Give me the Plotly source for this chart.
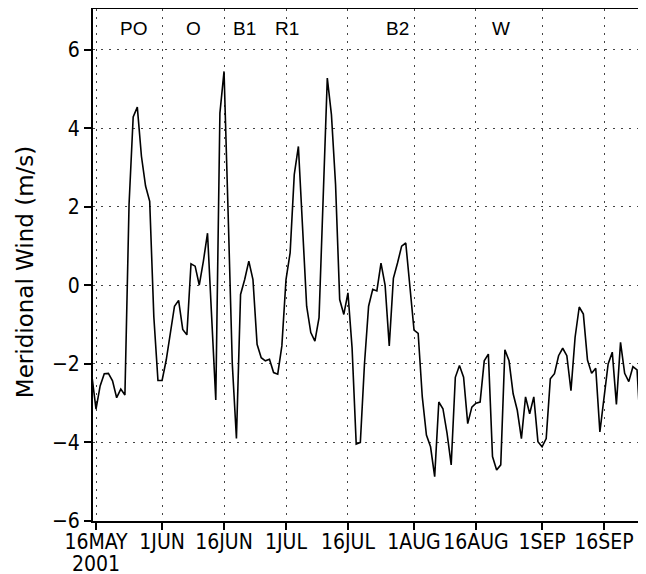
import pandas as pd
import plotly.graph_objects as go

# Daily meridional wind (m/s), starting 15 May 2001
start_date = "2001-05-15"
wind = [
    -2.3, -3.15, -2.56, -2.25, -2.24, -2.43, -2.86, -2.64, -2.79, 2.06,
    4.29, 4.54, 3.29, 2.53, 2.14, -0.8, -2.42, -2.42, -1.9, -1.2,
    -0.53, -0.38, -1.12, -1.26, 0.55, 0.49, 0.01, 0.62, 1.33, -0.8,
    -2.92, 4.39, 5.45, 1.8, -2.0, -3.9, -0.23, 0.15, 0.62, 0.15,
    -1.5, -1.84, -1.92, -1.88, -2.22, -2.26, -1.54, 0.15, 0.83, 2.82,
    3.54, 1.5, -0.53, -1.2, -1.42, -0.82, 2.3, 5.28, 4.35, 2.57,
    -0.36, -0.74, -0.19, -1.59, -4.04, -4.0, -2.0, -0.53, -0.1, -0.14,
    0.57, 0.0, -1.54, 0.18, 0.57, 1.0, 1.08, -0.05, -1.14, -1.22,
    -2.84, -3.81, -4.11, -4.87, -2.97, -3.14, -3.77, -4.57, -2.34, -2.04,
    -2.34, -3.52, -3.1, -3.0, -2.97, -1.92, -1.75, -4.36, -4.70, -4.57,
    -1.64, -1.92, -2.76, -3.18, -3.9, -2.84, -3.27, -2.84, -3.98, -4.11,
    -3.9, -2.38, -2.25, -1.79, -1.6, -1.79, -2.68, -1.32, -0.55, -0.73,
    -1.9, -2.24, -2.11, -3.73, -2.84, -2.0, -1.70, -3.03, -1.45, -2.24,
    -2.45, -2.07, -2.15, -4.01, -4.0, -5.2,
]
dates = pd.date_range(start_date, periods=len(wind), freq="D")

tick_dates = ["2001-05-16", "2001-06-01", "2001-06-16", "2001-07-01", "2001-07-16",
              "2001-08-01", "2001-08-16", "2001-09-01", "2001-09-16"]
tick_labels = ["16MAY", "1JUN", "16JUN", "1JUL", "16JUL",
               "1AUG", "16AUG", "1SEP", "16SEP"]
year_label = "2001"
y_ticks = [-6, -4, -2, 0, 2, 4, 6]

event_labels = ["PO", "O", "B1", "R1", "B2", "W"]
event_dates = ["2001-05-25", "2001-06-08 16:00", "2001-06-21", "2001-07-01 05:00",
               "2001-07-28 02:00", "2001-08-22"]
event_y = 6.54

TICK_FONT = "DejaVu Sans Condensed"

fig = go.Figure()
fig.add_trace(go.Scatter(x=dates, y=wind, mode="lines",
                         line=dict(color="black", width=1.6), showlegend=False))

for lab, d in zip(event_labels, event_dates):
    fig.add_annotation(x=d, y=event_y, text=lab, showarrow=False,
                       font=dict(family="Liberation Sans", size=19, color="black"),
                       xanchor="center", yanchor="middle")

fig.add_annotation(x=tick_dates[0], xref="x", yref="paper", y=0, yshift=-43,
                   text=year_label, showarrow=False,
                   font=dict(family=TICK_FONT, size=21, color="black"),
                   xanchor="center", yanchor="middle")

fig.add_annotation(xref="paper", yref="paper", x=0, y=0.486, xshift=-68,
                   text="Meridional Wind (m/s)", textangle=-90, showarrow=False,
                   font=dict(family="DejaVu Sans", size=23, color="black"),
                   xanchor="center", yanchor="middle")

fig.update_layout(
    width=646, height=574,
    margin=dict(l=85, r=8, t=1, b=61, autoexpand=False),
    paper_bgcolor="white", plot_bgcolor="white",
    font=dict(family="Liberation Sans", color="black"),
)
fig.update_xaxes(
    range=["2001-05-15 06:30", "2001-09-26 04:00"],
    tickmode="array", tickvals=tick_dates, ticktext=tick_labels,
    tickangle=0, automargin=False, ticklabelstandoff=-6,
    tickfont=dict(size=21, family=TICK_FONT),
    ticks="outside", ticklen=7, tickwidth=1.5, tickcolor="black",
    showline=True, linecolor="black", linewidth=1.8, mirror=True,
    showgrid=True, gridcolor="#444", gridwidth=1, griddash="2px,6px",
    zeroline=False,
)
fig.update_yaxes(
    range=[-6, 7.04],
    tickmode="array", tickvals=y_ticks, automargin=False,
    tickfont=dict(size=21, family=TICK_FONT),
    ticks="outside", ticklen=7, tickwidth=1.5, tickcolor="black",
    showline=True, linecolor="black", linewidth=1.8, mirror=False,
    showgrid=True, gridcolor="#444", gridwidth=1, griddash="2px,6px",
    zeroline=False,
)

fig.write_html("out.html")
